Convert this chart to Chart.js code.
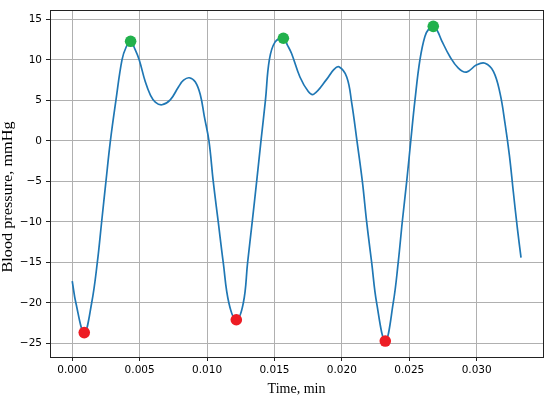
<!DOCTYPE html>
<html>
<head>
<meta charset="utf-8">
<script src="https://cdn.jsdelivr.net/npm/chart.js@4.4.1/dist/chart.umd.min.js"></script>
<style>
  body { margin: 0; background: #fff; }
  #wrap { width: 550px; height: 400px; }
</style>
</head>
<body>
<div id="wrap"><canvas id="chartjs-0"></canvas></div>
<script>
"use strict";

// waveform (time in min, pressure in mmHg)
let timeMin = [
  0.00000, 0.00027, 0.00089, 0.00144, 0.00186, 0.00218, 0.00250, 0.00283, 0.00324, 0.00369,
  0.00400, 0.00433, 0.00466, 0.00497, 0.00542, 0.00579, 0.00616, 0.00665, 0.00727, 0.00789,
  0.00826, 0.00868, 0.00912, 0.00950, 0.00980, 0.01014, 0.01046, 0.01083, 0.01120, 0.01162,
  0.01217, 0.01269, 0.01301, 0.01335, 0.01368, 0.01400, 0.01433, 0.01462, 0.01504, 0.01566,
  0.01597, 0.01627, 0.01689, 0.01751, 0.01790, 0.01887, 0.01940, 0.01978, 0.02036, 0.02073,
  0.02112, 0.02152, 0.02184, 0.02221, 0.02258, 0.02322, 0.02381, 0.02418, 0.02448, 0.02481,
  0.02511, 0.02542, 0.02579, 0.02616, 0.02648, 0.02678, 0.02708, 0.02740, 0.02802, 0.02864,
  0.02924, 0.03000, 0.03062, 0.03124, 0.03173, 0.03210, 0.03243, 0.03272, 0.03302, 0.03329
];
let pressure = [
  -17.3, -20.0, -23.66, -20.0, -15.0, -10.0, -5.0, 0.0, 5.0, 10.0,
  11.6, 12.3, 11.3, 10.0, 7.3, 5.7, 4.8, 4.47, 5.07, 6.7,
  7.5, 7.8, 7.3, 5.7, 3.0, 0.0, -5.0, -10.0, -15.0, -20.0,
  -22.07, -20.0, -15.0, -10.0, -5.0, 0.0, 5.0, 10.0, 12.2, 12.68,
  11.8, 10.8, 7.9, 6.1, 5.75, 7.6, 8.8, 9.15, 7.9, 4.7,
  0.0, -5.0, -10.0, -15.0, -20.0, -24.7, -20.0, -15.0, -10.0, -5.0,
  0.0, 5.0, 10.0, 12.9, 13.9, 14.15, 13.6, 12.4, 10.4, 9.0,
  8.5, 9.4, 9.6, 8.6, 5.9, 2.2, -1.8, -6.3, -10.8, -14.4
];

// marked maxima / minima
let peakTime = [0.00433, 0.01566, 0.02678];
let peakValue = [12.3, 12.68, 14.15];
let troughTime = [0.00089, 0.01217, 0.02322];
let troughValue = [-23.66, -22.07, -24.7];

// axis ticks
let xTicks = [0.000, 0.005, 0.010, 0.015, 0.020, 0.025, 0.030];
let yTicks = [-25, -20, -15, -10, -5, 0, 5, 10, 15];

function toPoints(xs, ys) {
    let pts = [];
    for (let i = 0; i < xs.length; i++) {
        pts.push({x: xs[i], y: ys[i]});
    }
    return pts;
}

// box around the plot + rotated y label
const framePlugin = {
    id: "frame",
    afterDraw(chart) {
        const ctx = chart.ctx;
        const a = chart.chartArea;
        ctx.save();
        ctx.strokeStyle = "#222";
        ctx.lineWidth = 1;
        ctx.strokeRect(Math.round(a.left) + 0.5, Math.round(a.top) + 0.5,
                       Math.round(a.right - a.left), Math.round(a.bottom - a.top));
        ctx.fillStyle = "#000";
        ctx.font = "14px 'Liberation Serif', 'Times New Roman', serif";
        ctx.textAlign = "center";
        ctx.textBaseline = "middle";
        ctx.translate(8, 197);
        ctx.scale(1, 1.16);
        ctx.rotate(-Math.PI / 2);
        ctx.fillText("Blood pressure, mmHg", 0, 0);
        ctx.restore();
    }
};

const tickFont = {family: "'DejaVu Sans', sans-serif", size: 10.5};

var ctx = document.getElementById("chartjs-0");
let myChart = new Chart(ctx, {
    type: "line",
    data: {
        datasets: [
            {
                label: "peaks",
                data: toPoints(peakTime, peakValue),
                showLine: false,
                pointRadius: 5.8,
                pointBackgroundColor: "#22b14c",
                pointBorderColor: "#22b14c",
                pointBorderWidth: 0,
                order: 1
            },
            {
                label: "troughs",
                data: toPoints(troughTime, troughValue),
                showLine: false,
                pointRadius: 5.8,
                pointBackgroundColor: "#ed1c24",
                pointBorderColor: "#ed1c24",
                pointBorderWidth: 0,
                order: 1
            },
            {
                label: "pressure",
                data: toPoints(timeMin, pressure),
                borderColor: "#1f77b4",
                borderWidth: 1.7,
                pointRadius: 0,
                fill: false,
                tension: 0.4,
                order: 2
            }
        ]
    },
    options: {
        responsive: true,
        maintainAspectRatio: false,
        animation: false,
        layout: {padding: {left: 0, right: 7, top: 6, bottom: 0}},
        plugins: {legend: {display: false}, tooltip: {enabled: false}},
        scales: {
            x: {
                type: "linear",
                min: -0.00165,
                max: 0.03492,
                afterBuildTicks: function (scale) {
                    scale.ticks = xTicks.map(v => ({value: v}));
                },
                afterFit: function (scale) { scale.height = 43; },
                ticks: {
                    color: "#000",
                    font: tickFont,
                    padding: 3,
                    maxRotation: 0,
                    autoSkip: false,
                    callback: v => v.toFixed(3)
                },
                grid: {color: "#b0b0b0", lineWidth: 1, tickColor: "#222", tickLength: 4},
                border: {display: false},
                title: {
                    display: true,
                    text: "Time, min",
                    color: "#000",
                    font: {family: "'Liberation Serif', 'Times New Roman', serif", size: 14},
                    padding: {top: 0, bottom: 2}
                }
            },
            y: {
                type: "linear",
                min: -26.67,
                max: 16.13,
                afterBuildTicks: function (scale) {
                    scale.ticks = yTicks.map(v => ({value: v}));
                },
                afterFit: function (scale) { scale.width = 50; },
                ticks: {
                    color: "#000",
                    font: tickFont,
                    padding: 4,
                    autoSkip: false,
                    callback: v => (v < 0 ? "\u2212" + Math.abs(v) : String(v))
                },
                grid: {color: "#b0b0b0", lineWidth: 1, tickColor: "#222", tickLength: 4},
                border: {display: false}
            }
        }
    },
    plugins: [framePlugin]
});
</script>
</body>
</html>
